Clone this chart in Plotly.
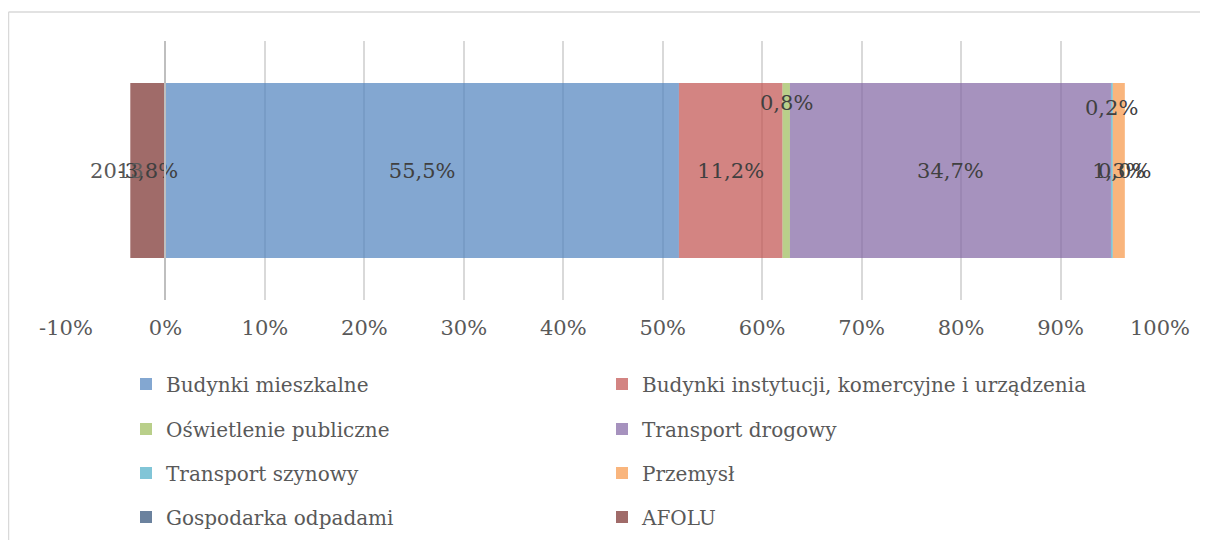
import plotly.graph_objects as go

# ---- data ----
year = ["2013"]
sectors = [
    "Budynki mieszkalne",
    "Budynki instytucji, komercyjne i urządzenia",
    "Oświetlenie publiczne",
    "Transport drogowy",
    "Transport szynowy",
    "Przemysł",
    "Gospodarka odpadami",
    "AFOLU",
]
values = [55.5, 11.2, 0.8, 34.7, 0.2, 1.3, 0.0, -3.8]
colors = ["rgba(79,129,189,0.7)", "rgba(192,80,77,0.7)", "rgba(155,187,89,0.7)", "rgba(128,100,162,0.7)",
          "rgba(75,172,198,0.7)", "rgba(247,150,70,0.7)", "rgba(44,77,117,0.7)", "rgba(119,44,42,0.7)"]
# labels placed above the bar (as in the original) instead of in the middle
lifted = {"Oświetlenie publiczne": 68, "Transport szynowy": 63}
edge_label = {"Gospodarka odpadami"}

x_ticks = list(range(-10, 101, 10))

FONT = "DejaVu Serif"


def pl(v):
    return f"{v:.1f}%".replace(".", ",")


# Excel's 100% stacked bar normalises by the sum of absolute values
total_abs = sum(abs(v) for v in values)
shares = [v / total_abs * 100 for v in values]

legend_ids = ["legend"] + [f"legend{i}" for i in range(2, len(sectors) + 1)]

fig = go.Figure()
annotations = []
pos_cum = 0.0
for name, v, s, c, lg in zip(sectors, values, shares, colors, legend_ids):
    inside = not (name in lifted or name in edge_label)
    fig.add_trace(go.Bar(
        y=year, x=[s], name=name, orientation="h",
        marker=dict(color=c, line=dict(width=0)),
        text=[pl(v)] if inside else None,
        textposition="inside", insidetextanchor="middle",
        constraintext="none", textangle=0,
        textfont=dict(family=FONT, size=21, color="#404040"),
        legend=lg, showlegend=True, hoverinfo="name+text",
    ))
    if s >= 0:
        center = pos_cum + s / 2
        pos_cum += s
        if name in lifted or name in edge_label:
            annotations.append(dict(x=center, y=0, xref="x", yref="y", text=pl(v),
                                    showarrow=False, yshift=lifted.get(name, 0),
                                    font=dict(family=FONT, size=21, color="#404040")))

# page is shown with an 8px body margin, so the figure sits at (8, 8)
OFF = 8
W, H = 1208 - OFF, 540 - OFF
L, R, T, B = 66 - OFF, 48, 41 - OFF, 240
pw, ph = W - L - R, H - T - B


def px_x(px):  # page pixel -> paper fraction
    return (px - OFF - L) / pw


def px_y(py):
    return (H - B - (py - OFF)) / ph


row_y = [384, 429, 473, 517]
col_x = [126, 602]

legends = {}
for i, lg in enumerate(legend_ids):
    legends[lg] = dict(orientation="v", xref="paper", yref="paper", xanchor="left", yanchor="middle",
                       x=px_x(col_x[i % 2]), y=px_y(row_y[i // 2]),
                       font=dict(family=FONT, size=20, color="#595959"),
                       bgcolor="rgba(0,0,0,0)")

fig.update_layout(
    width=W, height=H,
    margin=dict(l=L, r=R, t=T, b=B, autoexpand=False),
    paper_bgcolor="white", plot_bgcolor="white",
    showlegend=True,
    barmode="relative", bargap=0.324,
    font=dict(family=FONT, size=21, color="#595959"),
    xaxis=dict(range=[-10, 100], tickvals=x_ticks, ticktext=[f"{t}%" for t in x_ticks],
               showgrid=True, gridcolor="#d9d9d9", gridwidth=1.5,
               zeroline=False, showline=False, ticks="", ticklabelstandoff=13,
               tickfont=dict(family=FONT, size=21, color="#595959"), fixedrange=True),
    yaxis=dict(type="category", range=[-0.5, 0.5], anchor="free", position=10 / 110,
               showline=True, linecolor="#bfbfbf", linewidth=1.5, showgrid=False, zeroline=False,
               ticks="", ticklabelstandoff=17,
               tickfont=dict(family=FONT, size=21, color="#595959"), fixedrange=True),
    annotations=annotations,
    shapes=[
        dict(type="line", xref="paper", yref="paper", x0=px_x(8.5), x1=px_x(1215),
             y0=px_y(12), y1=px_y(12), line=dict(color="#d9d9d9", width=1.5), layer="below"),
        dict(type="line", xref="paper", yref="paper", x0=px_x(8.5), x1=px_x(8.5),
             y0=px_y(12), y1=px_y(545), line=dict(color="#d9d9d9", width=1.5), layer="below"),
    ],
    **legends,
)

fig.write_html("out.html")
